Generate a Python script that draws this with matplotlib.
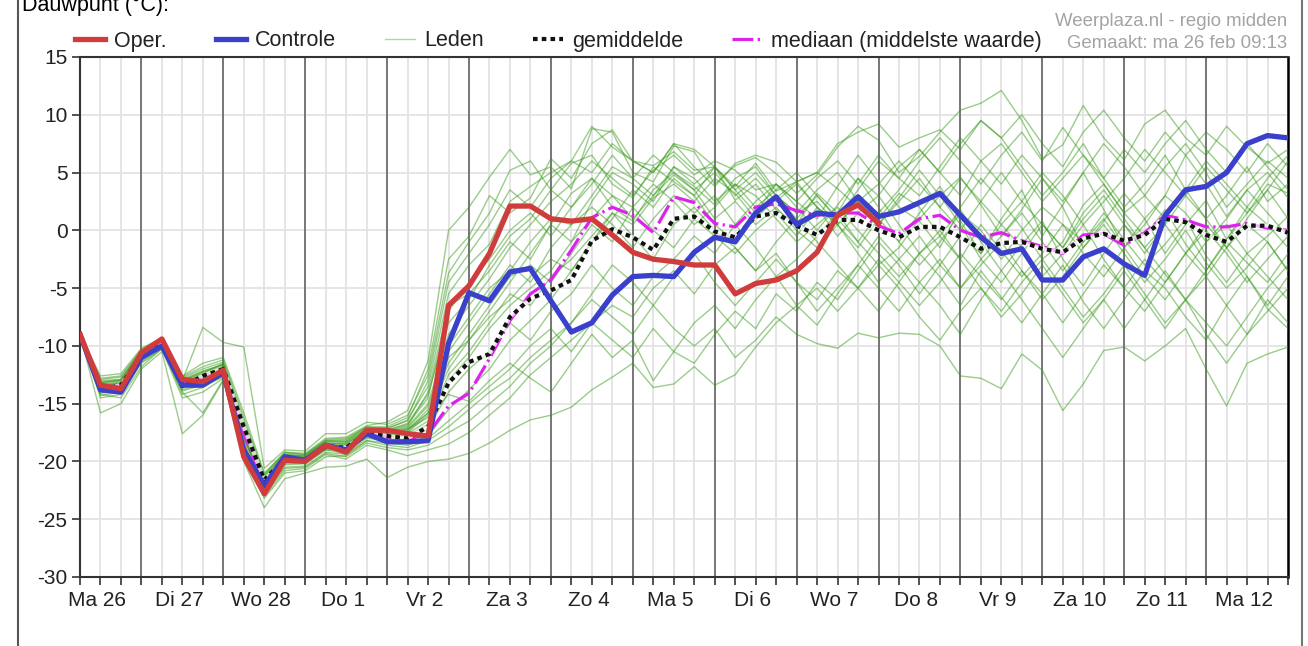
import matplotlib
matplotlib.use('Agg')
import matplotlib.pyplot as plt
import pandas as pd
from matplotlib.lines import Line2D

plt.rcParams['font.family'] = ['Liberation Sans', 'DejaVu Sans']
plt.rcParams['axes.unicode_minus'] = False

# 6-hourly forecast steps, Ma 26 06:00 .. Di 13 00:00
TIMES = pd.date_range('2018-02-26 06:00', periods=60, freq='6h')
DAY_LABELS = ['Ma 26', 'Di 27', 'Wo 28', 'Do 1', 'Vr 2', 'Za 3', 'Zo 4', 'Ma 5',
              'Di 6', 'Wo 7', 'Do 8', 'Vr 9', 'Za 10', 'Zo 11', 'Ma 12']

OPER = [-9.0, -13.4, -13.7, -10.6, -9.4, -12.9, -13.1, -12.1, -19.6, -22.8, -19.9, -20.0, -18.6, -19.2, -17.3,
        -17.3, -17.6, -17.8, -6.5, -4.8, -2.0, 2.1, 2.1, 1.0, 0.8, 1.0, -0.4, -1.9, -2.5, -2.7,
        -3.0, -3.0, -5.5, -4.6, -4.3, -3.5, -1.9, 1.3, 2.2, 0.6]

CONTROLE = [-9.0, -13.8, -14.0, -11.0, -10.0, -13.4, -13.4, -12.3, -19.0, -22.1, -19.6, -19.9, -18.6, -19.0, -17.6,
            -18.3, -18.3, -18.2, -9.8, -5.4, -6.1, -3.6, -3.3, -6.1, -8.8, -8.0, -5.6, -4.0, -3.9, -4.0,
            -1.9, -0.6, -1.0, 1.5, 2.9, 0.5, 1.5, 1.3, 2.9, 1.2, 1.6, 2.4, 3.2, 1.3, -0.6,
            -2.0, -1.6, -4.3, -4.3, -2.3, -1.6, -2.9, -3.9, 1.3, 3.5, 3.8, 5.0, 7.5, 8.2, 8.0]

GEMIDDELDE = [-9.0, -13.8, -13.4, -10.8, -9.8, -13.5, -12.6, -12.0, -17.0, -21.6, -19.8, -19.9, -18.7, -18.8, -17.6,
              -17.8, -18.0, -17.0, -13.2, -11.4, -10.7, -7.5, -5.9, -5.2, -4.3, -0.9, 0.1, -0.6, -1.7, 1.0,
              1.2, -0.1, -0.6, 1.2, 1.5, 0.4, -0.4, 0.9, 0.9, 0.0, -0.6, 0.3, 0.3, -0.6, -1.6,
              -1.1, -1.0, -1.6, -1.9, -0.7, -0.3, -0.9, -0.4, 1.0, 0.7, -0.4, -1.0, 0.4, 0.4, -0.2]

MEDIAAN = [-9.0, -13.7, -13.4, -10.8, -9.8, -13.3, -12.8, -12.0, -17.6, -22.0, -19.9, -19.9, -18.7, -18.9, -17.5,
           -17.9, -18.1, -17.6, -15.2, -14.1, -11.1, -7.8, -5.5, -4.3, -1.7, 1.1, 2.0, 1.3, -0.2, 2.9,
           2.4, 0.6, 0.3, 2.0, 2.3, 1.7, 1.3, 1.5, 1.5, 0.4, -0.3, 1.0, 1.3, 0.0, -0.6,
           -0.2, -0.9, -1.4, -2.0, -0.4, -0.3, -1.3, -0.2, 1.3, 0.9, 0.3, 0.3, 0.6, 0.2, 0.0]

# ensemble members (leden)
LEDEN = [
    [-9.0, -12.6, -12.4, -10.2, -9.3, -12.6, -11.5, -11.0, -15.8, -21.0, -19.2, -19.3, -18.0, -17.9, -16.9,
     -16.6, -15.6, -11.3, 0.0, 2.0, 4.6, 7.0, 4.8, 5.5, 3.6, 8.8, 8.5, 5.0, 4.2, 7.3,
     6.8, 4.0, 5.6, 6.3, 4.9, 3.2, 4.8, 7.2, 9.0, 7.8, 5.0, 6.4, 8.5, 10.4, 11.0,
     12.1, 9.5, 6.2, 7.4, 10.8, 8.0, 6.1, 9.2, 10.4, 8.0, 6.5, 9.0, 7.2, 5.8, 7.0],
    [-9.0, -13.0, -12.9, -10.5, -9.5, -13.0, -8.4, -9.7, -10.1, -20.6, -19.0, -19.1, -17.6, -17.6, -16.6,
     -16.8, -16.0, -12.5, -3.7, -1.0, 1.5, 5.2, 6.0, 3.5, 5.8, 6.5, 4.0, 2.8, 5.5, 4.2,
     3.0, 5.5, 2.6, 4.0, 1.8, 0.5, 3.2, 1.5, 4.5, 2.0, -1.0, 1.5, 3.8, 0.8, -2.0,
     1.0, 3.5, -0.5, 2.2, 5.0, 1.8, -1.5, 0.5, 3.0, 6.5, 4.0, 1.2, 3.5, 5.0, 2.8],
    [-9.0, -13.2, -13.0, -10.4, -9.6, -12.9, -12.2, -11.6, -16.8, -21.3, -19.4, -19.5, -18.2, -18.2, -17.0,
     -17.2, -16.4, -13.5, -5.5, -3.0, -1.2, 2.5, 3.8, 5.0, 6.0, 9.0, 7.2, 6.0, 5.6, 6.8,
     5.2, 5.5, 3.8, 5.8, 3.4, 4.2, 5.0, 3.6, 2.0, 0.5, 2.8, 5.2, 3.0, 4.6, 2.2,
     -0.5, 1.8, 4.5, 2.0, -1.5, 0.8, 3.2, 1.0, -2.0, 0.5, 2.6, -0.8, 1.5, 4.0, 3.2],
    [-9.0, -13.5, -13.3, -10.6, -9.7, -13.2, -12.5, -12.0, -17.2, -21.6, -19.6, -19.8, -18.5, -18.4, -17.4,
     -17.5, -17.0, -15.0, -9.0, -6.5, -4.2, -1.5, 0.5, 2.5, 4.0, 6.0, 4.5, 3.0, 5.2, 6.5,
     4.8, 6.0, 5.2, 3.5, 4.0, 2.5, 1.0, 3.8, 6.5, 4.2, 2.0, 0.8, -1.5, 2.0, 4.5,
     2.5, 0.2, -2.5, -1.0, 2.2, 4.0, 1.5, -0.5, 1.8, -1.2, -3.5, -0.8, 2.0, 0.5, -1.5],
    [-9.0, -13.8, -13.6, -11.0, -9.9, -13.5, -12.8, -12.3, -17.8, -22.0, -20.0, -20.0, -18.8, -18.9, -17.7,
     -17.8, -17.5, -16.0, -12.0, -9.5, -7.0, -4.5, -2.0, 0.5, 3.2, 4.5, 2.0, 0.8, 3.5, 5.0,
     3.8, 2.2, 4.5, 5.5, 3.0, 1.5, 2.5, 0.5, -1.5, 1.0, 3.2, 2.0, -0.5, -2.5, 0.5,
     -1.8, -4.0, -2.0, 0.5, -1.0, 1.5, -0.8, -3.0, -1.2, 1.0, -2.2, -4.5, -2.0, -0.5, 1.2],
    [-9.0, -14.0, -13.8, -11.2, -10.0, -13.8, -13.2, -12.6, -18.3, -22.4, -20.3, -20.2, -19.0, -19.3, -18.0,
     -18.2, -18.4, -17.8, -15.5, -13.8, -12.0, -9.5, -7.8, -6.0, -3.5, -1.0, 1.5, 0.5, 2.8, 4.0,
     2.5, 4.5, 3.2, 1.0, 2.8, 4.2, 2.0, -0.5, 1.5, 3.0, 0.5, -2.0, -0.5, 1.8, -1.0,
     -3.5, -1.2, 0.8, -2.5, -4.8, -2.0, 0.5, -1.5, -3.8, -6.0, -3.5, -1.0, -2.8, -4.5, -2.0],
    [-9.0, -14.5, -14.2, -11.5, -10.3, -14.5, -14.0, -12.8, -18.8, -23.0, -20.8, -20.6, -19.4, -19.8, -18.6,
     -19.0, -19.5, -19.0, -18.5, -17.5, -16.0, -14.5, -12.5, -11.0, -9.5, -8.0, -6.5, -7.5, -5.0, -3.5,
     -5.5, -3.0, -1.5, -3.5, -2.0, -4.5, -6.0, -3.5, -5.0, -7.0, -4.5, -2.0, -4.0, -6.5, -3.5,
     -5.8, -8.0, -5.5, -3.0, -6.2, -8.5, -6.0, -3.5, -5.0, -7.5, -9.5, -6.5, -4.0, -6.8, -8.5],
    [-9.0, -15.8, -15.0, -12.0, -10.5, -17.6, -16.0, -13.0, -20.0, -24.0, -21.5, -21.0, -20.5, -20.4, -19.8,
     -21.4, -20.5, -20.0, -19.8, -19.3, -18.4, -17.3, -16.4, -16.0, -15.3, -13.8, -12.7, -11.5, -13.6, -13.3,
     -11.8, -13.4, -12.5, -10.1, -8.0, -6.5, -8.2, -5.5, -3.0, -5.0, -7.0, -4.5, -2.5, -5.0, -3.0,
     -1.0, -3.5, -6.0, -4.0, -1.5, 0.5, -2.0, -4.5, -2.5, 0.0, -2.8, -5.0, -3.2, -1.0, -3.5],
    [-9.0, -14.2, -14.5, -11.8, -10.2, -14.0, -15.8, -12.9, -19.0, -23.2, -21.0, -20.8, -19.6, -19.5, -18.2,
     -18.6, -18.8, -18.2, -17.0, -15.5, -14.0, -12.8, -11.0, -9.5, -8.0, -6.0, -7.5, -9.0, -6.5, -8.5,
     -10.0, -8.5, -11.0, -9.5, -7.5, -9.0, -9.8, -10.2, -8.9, -9.3, -8.9, -9.0, -10.0, -12.6, -12.8,
     -13.7, -10.7, -12.1, -15.6, -13.3, -10.4, -10.1, -11.3, -10.0, -8.5, -12.0, -15.2, -11.5, -10.7, -10.1],
    [-9.0, -13.9, -13.7, -11.1, -10.0, -13.6, -13.0, -12.4, -18.0, -22.2, -20.2, -20.1, -19.0, -19.0, -17.9,
     -18.0, -18.0, -17.2, -14.0, -12.0, -10.5, -8.0, -9.5, -7.0, -5.5, -3.0, -5.0, -6.5, -4.0, -2.5,
     -0.5, -2.0, 0.5, -1.5, -4.0, -2.5, -0.5, 1.5, -1.0, -3.0, -1.5, 1.0, 3.0, 0.5, -2.5,
     -4.5, -2.0, 0.5, -1.5, 1.5, 3.5, 1.0, -1.5, 0.5, -2.0, -4.0, -1.5, 1.0, 3.5, 1.0],
    [-9.0, -13.4, -13.2, -10.7, -9.8, -13.2, -12.6, -11.8, -17.3, -21.7, -19.7, -19.7, -18.6, -18.6, -17.5,
     -17.6, -17.2, -16.2, -14.2, -14.8, -13.0, -11.5, -12.8, -14.0, -11.5, -9.0, -11.0, -9.5, -13.0, -10.5,
     -11.5, -9.0, -7.0, -8.5, -5.5, -7.0, -4.5, -6.0, -3.5, -1.0, -3.0, -5.5, -3.0, -0.5, -2.0,
     0.5, -1.5, -4.0, -2.0, 0.5, -2.5, -5.0, -7.0, -4.5, -2.0, 0.5, -1.5, -4.0, -6.5, -4.0],
    [-9.0, -12.8, -12.6, -10.3, -9.4, -12.7, -11.8, -11.2, -16.2, -21.2, -19.2, -19.4, -18.1, -18.0, -17.0,
     -17.0, -16.2, -12.0, -2.5, -0.5, 3.0, 1.5, 2.8, 6.2, 4.5, 7.5, 8.7, 6.0, 5.0, 7.5,
     5.5, 3.8, 5.8, 6.5, 5.9, 4.2, 5.0, 7.5, 8.5, 9.2, 7.2, 8.0, 8.7, 7.0, 9.5,
     8.0, 5.5, 3.0, 5.0, 7.5, 4.5, 2.0, 4.0, 6.5, 3.5, 1.0, 3.0, 5.5, 2.5, 4.0],
    [-9.0, -13.6, -13.5, -10.9, -9.9, -13.4, -12.9, -12.1, -17.6, -21.9, -19.9, -19.9, -18.7, -18.8, -17.6,
     -17.7, -17.3, -15.5, -10.5, -8.0, -5.5, -3.0, -4.5, -1.5, 0.5, 2.0, 0.5, -1.5, 1.0, 3.0,
     1.5, 3.0, 0.5, 2.5, 4.0, 2.0, 0.0, 2.2, 4.5, 3.0, 5.5, 7.0, 5.0, 3.0, 6.0,
     7.5, 5.0, 2.5, 4.5, 6.5, 4.0, 1.5, 3.0, 5.5, 7.5, 5.0, 2.0, 4.0, 6.0, 4.5],
    [-9.0, -13.1, -13.0, -10.5, -9.6, -13.0, -12.4, -11.5, -17.0, -21.5, -19.4, -19.6, -18.3, -18.3, -17.2,
     -17.3, -16.8, -14.5, -7.0, -4.5, -2.5, 0.0, 1.5, -0.5, 2.0, 4.5, 3.0, 1.0, 3.0, 4.8,
     3.5, 1.0, 2.5, 0.5, 2.0, 0.0, -1.5, 0.5, 2.5, 1.0, -1.0, -3.0, -1.0, 1.5, 0.0,
     -2.5, 0.0, 2.0, 0.5, -2.0, -4.0, -1.5, 1.0, 3.0, 1.5, -1.0, 1.0, 3.5, 1.5, -0.5],
    [-9.0, -13.7, -13.4, -10.8, -9.8, -13.4, -12.7, -12.2, -17.9, -22.1, -20.1, -20.0, -18.9, -19.0, -17.8,
     -17.9, -17.6, -16.5, -13.0, -11.0, -8.5, -6.5, -5.0, -3.5, -1.0, 1.0, 3.0, 2.0, 4.0, 2.5,
     0.5, 2.0, 4.0, 3.0, 1.0, -1.0, 0.5, 2.0, 0.0, -2.0, -4.0, -2.0, 0.0, -2.5, -5.0,
     -7.0, -4.5, -2.5, -5.0, -7.5, -5.5, -3.0, -5.5, -8.0, -6.0, -4.0, -6.5, -9.0, -6.0, -8.0],
    [-9.0, -13.3, -13.1, -10.6, -9.7, -13.1, -12.3, -11.7, -16.9, -21.4, -19.5, -19.6, -18.4, -18.5, -17.3,
     -17.4, -16.9, -14.0, -6.5, -5.5, -3.5, -1.0, -2.5, 0.5, -1.0, 2.5, 5.0, 4.0, 2.5, 5.5,
     4.5, 2.5, 4.0, 2.0, 3.5, 5.0, 3.0, 1.0, 3.5, 6.0, 4.5, 3.0, 5.5, 8.0, 6.0,
     4.0, 6.5, 4.5, 2.5, 5.0, 7.5, 5.5, 3.0, 1.0, 3.5, 6.0, 4.0, 2.0, 4.5, 6.5],
    [-9.0, -14.1, -13.9, -11.3, -10.1, -13.9, -13.4, -12.7, -18.5, -22.6, -20.5, -20.4, -19.2, -19.4, -18.2,
     -18.4, -18.6, -18.0, -16.5, -15.0, -13.5, -12.0, -10.0, -8.5, -10.5, -8.0, -9.5, -11.0, -8.5, -10.5,
     -8.0, -6.5, -8.5, -6.0, -4.0, -6.5, -5.0, -7.0, -5.0, -3.0, -5.0, -7.5, -9.5, -7.0, -5.0,
     -7.5, -5.5, -3.0, -5.5, -8.0, -6.0, -8.5, -6.0, -3.5, -6.0, -8.0, -10.0, -7.5, -5.0, -3.0],
    [-9.0, -13.5, -13.3, -10.7, -9.8, -13.3, -12.7, -12.0, -17.5, -21.8, -19.8, -19.9, -18.7, -18.7, -17.6,
     -17.6, -17.2, -15.8, -11.5, -9.0, -6.5, -4.0, -3.0, -4.5, -2.0, 0.5, -1.0, 2.0, 0.0, -1.5,
     1.0, -0.5, -2.0, 0.0, 1.5, -0.5, 2.0, 0.5, -2.0, -4.5, -2.5, -0.5, -3.0, -5.0, -2.5,
     -0.5, 1.5, -1.0, -3.5, -1.0, 1.0, -1.5, -4.0, -6.0, -3.5, -1.0, 0.5, -2.0, -4.0, -6.0],
    [-9.0, -12.9, -12.7, -10.4, -9.5, -12.8, -12.0, -11.4, -16.5, -21.1, -19.3, -19.4, -18.2, -18.1, -17.1,
     -17.1, -16.5, -13.0, -4.5, -2.0, 0.5, 3.5, 2.0, 4.5, 6.0, 5.0, 7.5, 6.0, 5.0, 7.5,
     7.0, 5.5, 3.5, 5.0, 3.0, 1.5, 3.5, 5.0, 2.5, 0.5, 2.5, 4.5, 2.0, 0.0, 2.5,
     5.0, 2.5, 0.5, -1.5, 1.0, 3.0, 0.5, -2.0, 0.5, 3.0, 1.0, -1.5, 0.5, -1.0, -3.5],
    [-9.0, -13.7, -13.6, -11.0, -9.9, -13.6, -13.0, -12.3, -18.0, -22.0, -20.0, -20.1, -18.9, -18.9, -17.8,
     -17.9, -17.8, -16.8, -12.5, -10.5, -8.0, -5.5, -6.5, -4.0, -2.5, -0.5, 1.5, -0.5, -2.5, 0.5,
     2.0, 0.0, -1.5, -3.5, -1.0, 1.0, -1.0, -3.0, -5.0, -2.5, -4.5, -6.5, -4.5, -2.0, -4.0,
     -6.0, -3.5, -5.5, -8.0, -5.5, -3.0, -5.0, -2.5, -4.5, -2.0, 0.0, -2.0, -4.5, -2.5, -0.5],
    [-9.0, -13.4, -13.2, -10.6, -9.7, -13.2, -12.5, -11.9, -17.2, -21.6, -19.7, -19.7, -18.5, -18.5, -17.4,
     -17.5, -17.1, -15.2, -10.0, -7.5, -5.0, -3.5, -1.0, 1.0, 0.5, 3.0, 5.5, 4.5, 3.0, 5.5,
     4.0, 5.5, 3.5, 1.5, 4.0, 2.5, 4.5, 6.0, 4.0, 6.5, 4.5, 7.0, 5.0, 7.5, 9.5,
     8.0, 10.0, 7.5, 5.5, 8.5, 10.4, 8.0, 6.0, 8.5, 6.5, 8.5, 7.0, 5.0, 7.5, 5.5],
    [-9.0, -13.6, -13.4, -10.8, -9.8, -13.4, -12.8, -12.1, -17.7, -21.9, -19.9, -20.0, -18.8, -18.8, -17.7,
     -17.8, -17.4, -15.8, -11.0, -9.5, -7.5, -6.0, -4.0, -2.5, -3.5, -1.0, 1.0, 3.5, 2.0, 4.5,
     3.0, 0.5, -1.0, 1.5, 3.0, 1.0, 3.0, 1.0, -1.0, 1.5, 3.5, 6.0, 8.0, 6.0, 4.0,
     6.5, 8.5, 6.0, 8.9, 6.5, 4.5, 7.0, 5.0, 7.5, 9.5, 7.0, 5.0, 7.5, 5.5, 3.5],
    [-9.0, -14.3, -14.0, -11.4, -10.2, -14.2, -13.6, -12.6, -18.6, -22.8, -20.6, -20.5, -19.3, -19.6, -18.4,
     -18.8, -19.0, -18.6, -17.5, -16.5, -15.0, -13.5, -11.5, -10.0, -8.0, -5.5, -3.0, -4.5, -6.5, -4.0,
     -2.0, -4.5, -6.5, -4.5, -2.5, -4.5, -7.0, -5.0, -3.0, -0.5, -2.5, -4.5, -6.5, -9.0, -6.0,
     -3.5, -6.0, -8.5, -11.0, -8.5, -6.0, -3.5, -6.0, -8.5, -6.0, -9.0, -11.5, -9.0, -7.0, -5.0],
    [-9.0, -13.2, -12.9, -10.5, -9.6, -13.0, -12.2, -11.6, -16.8, -21.4, -19.5, -19.5, -18.3, -18.3, -17.2,
     -17.3, -16.7, -14.2, -8.0, -6.0, -3.0, -0.5, 1.0, 3.5, 2.0, 4.0, 6.5, 4.5, 6.5, 5.0,
     3.5, 5.0, 3.0, 4.5, 2.5, 4.0, 2.0, 0.5, 2.5, 4.0, 6.0, 4.0, 2.0, 4.5, 2.5,
     0.5, 2.5, 5.0, 3.0, 0.5, 2.5, 4.5, 7.0, 5.0, 3.0, 5.5, 3.5, 1.5, 3.5, 6.0],
]

C_OPER = '#d03c3c'
C_CONTROLE = '#3a3fcc'
C_LEDEN = '#389a18'
C_MEDIAAN = '#dd22ee'
W, H = 1308, 646

fig = plt.figure(figsize=(W / 100, H / 100), dpi=100)
ax = fig.add_axes([80 / W, 1 - 577 / H, 1208 / W, 520 / H])

for member in LEDEN:
    ax.plot(TIMES, member, color=C_LEDEN, lw=1.0, alpha=0.5, zorder=3)

ax.plot(TIMES, MEDIAAN, color=C_MEDIAAN, lw=2.3, dashes=(6.5, 1.4, 0.7, 1.4), zorder=4)
ax.plot(TIMES, GEMIDDELDE, color='white', lw=3.0, alpha=0.7, zorder=5)
ax.plot(TIMES, GEMIDDELDE, color='#111111', lw=3.0, dashes=(1.1, 1.0), zorder=5)
ax.plot(TIMES, CONTROLE, color=C_CONTROLE, lw=3.8, zorder=6, solid_joinstyle='round')
ax.plot(TIMES[:len(OPER)], OPER, color=C_OPER, lw=3.8, zorder=7, solid_joinstyle='round')

# axes limits and grid
ax.set_xlim(pd.Timestamp('2018-02-26 06:00'), pd.Timestamp('2018-03-13 00:00'))
ax.set_ylim(-30, 15)
ax.set_yticks(range(-30, 16, 5))
ax.set_xticks(pd.date_range('2018-02-26 11:00', periods=len(DAY_LABELS), freq='D'))
ax.set_xticklabels(DAY_LABELS)
ax.set_xticks(pd.date_range('2018-02-26 06:00', '2018-03-13 00:00', freq='6h'), minor=True)
ax.tick_params(axis='x', which='major', length=0, pad=10, labelsize=15, colors='#222222')
ax.tick_params(axis='x', which='minor', length=6, width=1.2, color='#333333')
ax.tick_params(axis='y', length=6, width=1.2, color='#333333', pad=3, labelsize=15,
               labelcolor='#222222')
ax.grid(which='minor', axis='x', color='#e3e3e3', lw=1.3, zorder=0)
ax.grid(which='major', axis='y', color='#e3e3e3', lw=1.3, zorder=0)
ax.set_axisbelow(True)
for day in pd.date_range('2018-02-27', '2018-03-12', freq='D'):
    ax.axvline(day, color='#777777', lw=1.4, zorder=1)

for side in ['left', 'bottom', 'top']:
    ax.spines[side].set_color('#333333')
    ax.spines[side].set_linewidth(1.5)
ax.spines['right'].set_color('black')
ax.spines['right'].set_linewidth(1.8)

# legend row above the plot
handles = [
    Line2D([], [], color=C_OPER, lw=3.8),
    Line2D([], [], color=C_CONTROLE, lw=3.8),
    Line2D([], [], color=C_LEDEN, lw=1.0, alpha=0.4),
    Line2D([], [], color='#111111', lw=3.0, dashes=(1.1, 1.0)),
    Line2D([], [], color=C_MEDIAAN, lw=2.3, dashes=(6.5, 1.4, 0.7, 1.4)),
]
labels = ['Oper.', 'Controle', 'Leden', 'gemiddelde', 'mediaan (middelste waarde)']
ax.legend(handles, labels, ncol=5, loc='center left', bbox_to_anchor=(-5 / 1208, 1 + 16 / 520),
          frameon=False, borderpad=0, borderaxespad=0, handlelength=1.4,
          handletextpad=0.42, columnspacing=2.27, fontsize=15.5, labelcolor='#222222')

fig.text(1287 / W, 1 - 22 / H, 'Weerplaza.nl - regio midden', ha='right', va='center',
         fontsize=13.4, color='#a3a3a3')
fig.text(1287 / W, 1 - 43 / H, 'Gemaakt: ma 26 feb 09:13', ha='right', va='center',
         fontsize=13.4, color='#a3a3a3')
fig.text(22 / W, 1 - 11 / H, 'Dauwpunt (°C):', ha='left', va='baseline', fontsize=15.5,
         color='black')

# outer frame lines of the screenshot
fig.add_artist(Line2D([18 / W, 18 / W], [0, 1], transform=fig.transFigure, color='#555555', lw=1.5))
fig.add_artist(Line2D([1302 / W, 1302 / W], [0, 1], transform=fig.transFigure, color='#777777', lw=1.5))

fig.savefig('out.png', dpi=100)
